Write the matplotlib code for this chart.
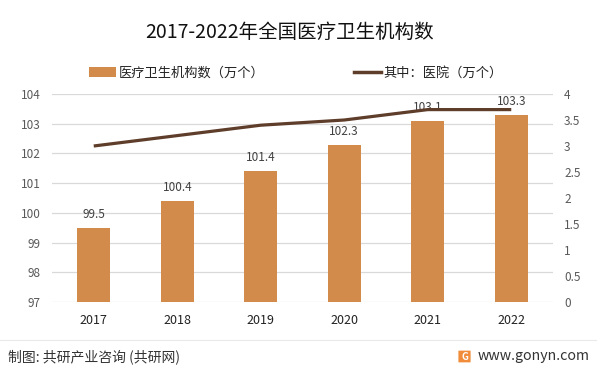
import matplotlib
matplotlib.use("Agg")
import matplotlib.pyplot as plt
from matplotlib.patches import Patch, FancyBboxPatch
from matplotlib.lines import Line2D
import numpy as np

plt.rcParams['font.family'] = ['Noto Sans CJK SC', 'DejaVu Sans']

years = ['2017', '2018', '2019', '2020', '2021', '2022']
institutions = [99.5, 100.4, 101.4, 102.3, 103.1, 103.3]
hospitals = [3.0, 3.2, 3.4, 3.5, 3.7, 3.7]
left_ticks = [97, 98, 99, 100, 101, 102, 103, 104]
right_ticks = [0, 0.5, 1, 1.5, 2, 2.5, 3, 3.5, 4]
right_labels = ['0', '0.5', '1', '1.5', '2', '2.5', '3', '3.5', '4']

title = '2017-2022年全国医疗卫生机构数'
bar_name = '医疗卫生机构数（万个）'
line_name = '其中：医院（万个）'
footer_left = '制图: 共研产业咨询 (共研网)'
footer_right = 'www.gonyn.com'

bar_color = '#D38B4C'
line_color = '#5E3D2A'
tick_color = '#595959'
grid_color = '#D9D9D9'

W, H = 597, 371
fig = plt.figure(figsize=(W / 100, H / 100), dpi=100)
ax = fig.add_axes([52 / W, 1 - 302 / H, 501 / W, 208 / H])

x = np.arange(len(years))
bars = ax.bar(x, institutions, width=0.4, color=bar_color, zorder=2)
ax.set_xlim(-0.5, len(years) - 0.5)
ax.set_ylim(97, 104)
ax.set_yticks(left_ticks)
ax.set_yticklabels([str(v) for v in left_ticks])
ax.yaxis.grid(True, color=grid_color, lw=0.9, zorder=0)
ax.set_axisbelow(True)
for s in ax.spines.values():
    s.set_visible(False)
ax.tick_params(axis='y', length=0, colors=tick_color, labelsize=8.5, pad=8)
ax.set_xticks(x)
ax.set_xticklabels(years)
ax.tick_params(axis='x', length=0, colors='#222222', labelsize=9, pad=9)

for xi, v in zip(x, institutions):
    ax.annotate(f'{v:.1f}', (xi, v), xytext=(0, 5), textcoords='offset points',
                ha='center', va='bottom', fontsize=8.5, color='#404040')

ax2 = ax.twinx()
ax2.plot(x, hospitals, color=line_color, lw=2.3, solid_capstyle='butt', zorder=3)
ax2.set_ylim(0, 4)
ax2.set_yticks(right_ticks)
ax2.set_yticklabels(right_labels)
for s in ax2.spines.values():
    s.set_visible(False)
ax2.tick_params(axis='y', length=0, colors=tick_color, labelsize=8.5, pad=8)

fig.text(290 / W, 1 - 32 / H, title, ha='center', va='center', fontsize=14, color='#111111')

handles = [Patch(facecolor=bar_color, edgecolor='none'),
           Line2D([0], [0], color=line_color, lw=2.5)]
fig.legend(handles, [bar_name, line_name], loc='center',
           bbox_to_anchor=(296 / W, 1 - 73 / H), ncol=2, frameon=False,
           fontsize=9.5, handlelength=2.05, handleheight=0.8, columnspacing=6.8,
           handletextpad=0.2, labelcolor='#222222')

# footer
fig.add_artist(Line2D([0, 1], [1 - 340 / H, 1 - 340 / H], color='#EAEAEA', lw=0.8,
                      transform=fig.transFigure))
fig.text(8 / W, 1 - 357 / H, footer_left, ha='left', va='center', fontsize=10, color='#333333')
fig.text(590 / W, 1 - 356 / H, footer_right, ha='right', va='center', fontsize=10.2, color='#333333')
logo = FancyBboxPatch((459 / W, 1 - 362 / H), 11 / W, 11 / H,
                      boxstyle='round,pad=0.001', facecolor='#F08C3A', edgecolor='none',
                      transform=fig.transFigure)
fig.add_artist(logo)
fig.text(464.5 / W, 1 - 356.5 / H, 'G', ha='center', va='center', fontsize=7,
         color='white', fontweight='bold')

fig.savefig('out.png', dpi=100)
